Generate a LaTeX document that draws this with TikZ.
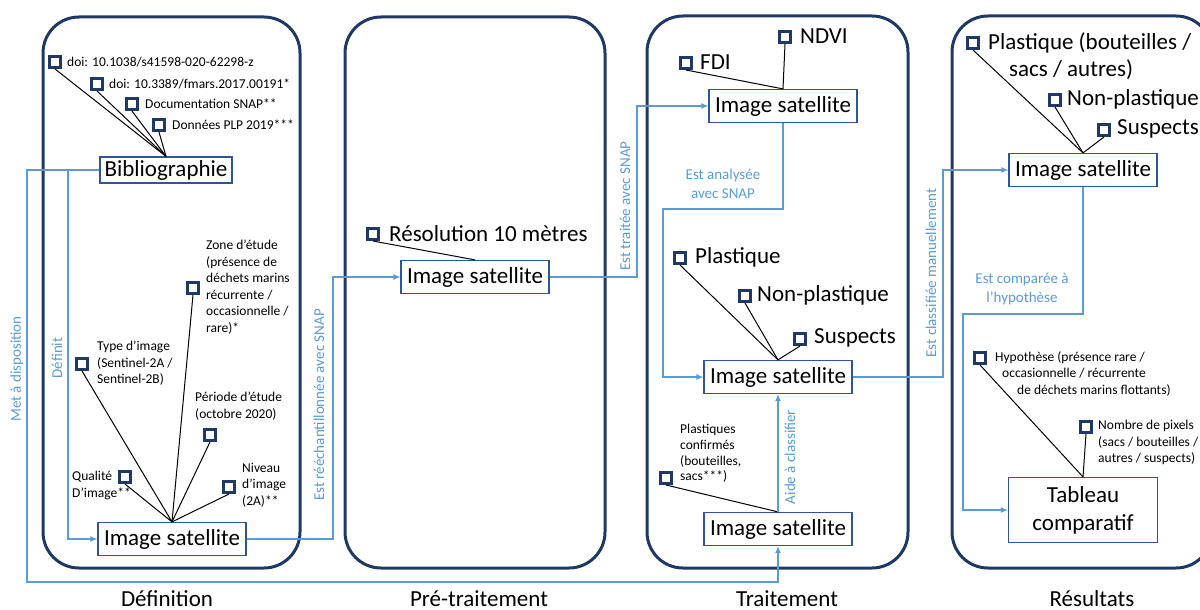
\documentclass[tikz,border=0pt]{standalone}
\usepackage{fontspec}
\setmainfont{Carlito}
\usetikzlibrary{arrows.meta}
\definecolor{navy}{HTML}{203864}
\definecolor{frameblue}{HTML}{2F5597}
\definecolor{linkblue}{HTML}{5B9BD5}
\newcommand{\smalltext}{\fontsize{13.5}{16.5}\selectfont}
\newcommand{\bigtext}{\fontsize{23}{27}\selectfont}
\newcommand{\linktext}{\fontsize{15}{19}\selectfont}

\begin{document}
\begin{tikzpicture}[
  x=1pt, y=-1pt,
  panel/.style={draw=navy, line width=3pt, rounded corners=36pt},
  sat_box/.style={draw=frameblue, line width=1.2pt, fill=white, minimum width=148pt, minimum height=33pt, inner sep=0pt, font=\bigtext},
  mark_box/.style={draw=navy, line width=3pt, fill=white, minimum size=11pt, inner sep=0pt},
  big_label/.style={inner sep=0pt, font=\bigtext},
  small_label/.style={inner sep=0pt, align=left, font=\smalltext},
  blue_link/.style={draw=linkblue, line width=1.2pt, -{Latex[length=7pt,width=6pt]}},
  link_label/.style={text=linkblue, inner sep=0pt, align=center, font=\linktext},
  black_tie/.style={draw=black, line width=1pt},
]
\useasboundingbox (0,0) rectangle (1200,610);
\clip (0,0) rectangle (1200,610);

\draw[panel] (43,17) rectangle (300,568);
\draw[panel] (345,17) rectangle (605,568);
\draw[panel] (647,16) rectangle (908,568);
\draw[panel] (952,16) rectangle (1212,568);

\draw (167,606) node [big_label, anchor=base] {Définition};
\draw (479,606) node [big_label, anchor=base] {Pré-traitement};
\draw (787,606) node [big_label, anchor=base] {Traitement};
\draw (1092,606) node [big_label, anchor=base] {Résultats};

% Definition
\draw (166,170) node (bib) [sat_box, minimum width=132pt, minimum height=26pt] {Bibliographie};
\draw (55,62) node (d1) [mark_box] {};
\draw (67,62) node [small_label, right] {doi: 10.1038/s41598-020-62298-z};
\draw (97,84) node (d2) [mark_box] {};
\draw (109,84) node [small_label, right] {doi: 10.3389/fmars.2017.00191*};
\draw (132,104) node (d3) [mark_box] {};
\draw (145,104) node [small_label, right] {Documentation SNAP**};
\draw (159,125) node (d4) [mark_box] {};
\draw (172,125) node [small_label, right] {Données PLP 2019***};
\draw[black_tie] (d1.south) -- (bib.north);
\draw[black_tie] (d2.south) -- (bib.north);
\draw[black_tie] (d3.south) -- (bib.north);
\draw[black_tie] (d4.south) -- (bib.north);

\draw (172,539) node (sat1) [sat_box] {Image satellite};
\draw (125,477) node (qual) [mark_box] {};
\draw (72,471) node [small_label, below right] {Qualité\\D’image**};
\draw (82,364) node (type) [mark_box] {};
\draw (97,341) node [small_label, below right] {Type d’image\\(Sentinel-2A /\\Sentinel-2B)};
\draw (193,288) node (zone) [mark_box] {};
\draw (206,240) node [small_label, below right] {Zone d’étude\\(présence de\\déchets marins\\récurrente /\\occasionnelle /\\rare)*};
\draw (210,435) node (peri) [mark_box] {};
\draw (195,392) node [small_label, below right] {Période d’étude\\(octobre 2020)};
\draw (229,487) node (nive) [mark_box] {};
\draw (242,463) node [small_label, below right] {Niveau\\d’image\\(2A)**};
\draw[black_tie] (qual.south) -- (sat1.north);
\draw[black_tie] (type.south) -- (sat1.north);
\draw[black_tie] (zone.south) -- (sat1.north);
\draw[black_tie] (peri.south) -- (sat1.north);
\draw[black_tie] (nive.south) -- (sat1.north);

% Pre-traitement
\draw (475,277) node (sat2) [sat_box] {Image satellite};
\draw (373,234) node (reso) [mark_box] {};
\draw (389,234) node [big_label, right] {Résolution 10 mètres};
\draw[black_tie] (reso.south) -- (sat2.north);

% Traitement
\draw (783,106) node (sat3a) [sat_box] {Image satellite};
\draw (686,63) node (fdi) [mark_box] {};
\draw (700,62) node [big_label, right] {FDI};
\draw (785,37) node (ndvi) [mark_box] {};
\draw (800,36) node [big_label, right] {NDVI};
\draw[black_tie] (fdi.south) -- (sat3a.north);
\draw[black_tie] (ndvi.south) -- (sat3a.north);

\draw (778,377) node (sat3b) [sat_box] {Image satellite};
\draw (680,258) node (plas) [mark_box] {};
\draw (695,257) node [big_label, right] {Plastique};
\draw (745,296) node (nonp) [mark_box] {};
\draw (757,295) node [big_label, right] {Non-plastique};
\draw (800,339) node (susp) [mark_box] {};
\draw (814,338) node [big_label, right] {Suspects};
\draw[black_tie] (plas.south) -- (sat3b.north);
\draw[black_tie] (nonp.south) -- (sat3b.north);
\draw[black_tie] (susp.south) -- (sat3b.north);

\draw (778,529) node (sat3c) [sat_box] {Image satellite};
\draw (666,478) node (conf) [mark_box] {};
\draw (680,424) node [small_label, below right, font=\fontsize{13.5}{15.8}\selectfont] {Plastiques\\confirmés\\(bouteilles,\\sacs***)};
\draw[black_tie] (conf.south) -- (sat3c.north);

% Resultats
\draw (1083,170) node (sat4) [sat_box] {Image satellite};
\draw (973,43) node (plas4) [mark_box] {};
\draw (988,32) node [big_label, below right, align=left, font=\fontsize{23}{27}\selectfont] {Plastique (bouteilles /\\\hspace*{21pt}sacs / autres)};
\draw (1055,100) node (nonp4) [mark_box] {};
\draw (1067,99) node [big_label, right] {Non-plastique};
\draw (1104,130) node (susp4) [mark_box] {};
\draw (1117,129) node [big_label, right] {Suspects};
\draw[black_tie] (plas4.south) -- (sat4.north);
\draw[black_tie] (nonp4.south) -- (sat4.north);
\draw[black_tie] (susp4.south) -- (sat4.north);

\draw (1083,510) node (tab) [sat_box, minimum width=149pt, minimum height=65pt, align=center, font=\fontsize{23}{28}\selectfont] {Tableau\\comparatif};
\draw (980,358) node (hypo) [mark_box] {};
\draw (995,351) node [small_label, below right] {Hypothèse (présence rare /\\\hspace*{7pt}occasionnelle / récurrente\\\hspace*{22pt}de déchets marins flottants)};
\draw (1086,427) node (pix) [mark_box] {};
\draw (1098,420) node [small_label, below right] {Nombre de pixels\\(sacs / bouteilles /\\autres / suspects)};
\draw[black_tie] (hypo.south) -- (tab.north);
\draw[black_tie] (pix.south) -- (tab.north);

% liens
\coordinate (met_c) at (27,582);
\draw[blue_link] (bib.west) -| (met_c) -| (sat3c.south);
\coordinate (def_c) at (68,400);
\draw[blue_link] (bib.west) -| (def_c) |- (sat1.west);
\coordinate (rs_c) at (333,400);
\draw[blue_link] (sat1.east) -| (rs_c) |- (sat2.west);
\coordinate (tr_c) at (637,200);
\draw[blue_link] (sat2.east) -| (tr_c) |- (sat3a.west);
\coordinate (an_c) at (663,209);
\draw[blue_link] (sat3a.south) |- (an_c) |- (sat3b.west);
\draw[blue_link] (sat3c.north) -- (sat3b.south);
\coordinate (cl_c) at (943,300);
\draw[blue_link] (sat3b.east) -| (cl_c) |- (sat4.west);
\coordinate (cp_c) at (963,314);
\draw[blue_link] (sat4.south) |- (cp_c) |- (tab.west);

\draw (17,369) node [link_label, rotate=90] {Met à disposition};
\draw (57,358) node [link_label, rotate=90] {Définit};
\draw (319,405) node [link_label, rotate=90] {Est rééchantillonnée avec SNAP};
\draw (625,206) node [link_label, rotate=90] {Est traitée avec SNAP};
\draw (723,184) node [link_label] {Est analysée\\avec SNAP};
\draw (790,457) node [link_label, rotate=90] {Aide à classifier};
\draw (931,273) node [link_label, rotate=90] {Est classifiée manuellement};
\draw (1022,289) node [link_label] {Est comparée à\\l’hypothèse};
\end{tikzpicture}
\end{document}
